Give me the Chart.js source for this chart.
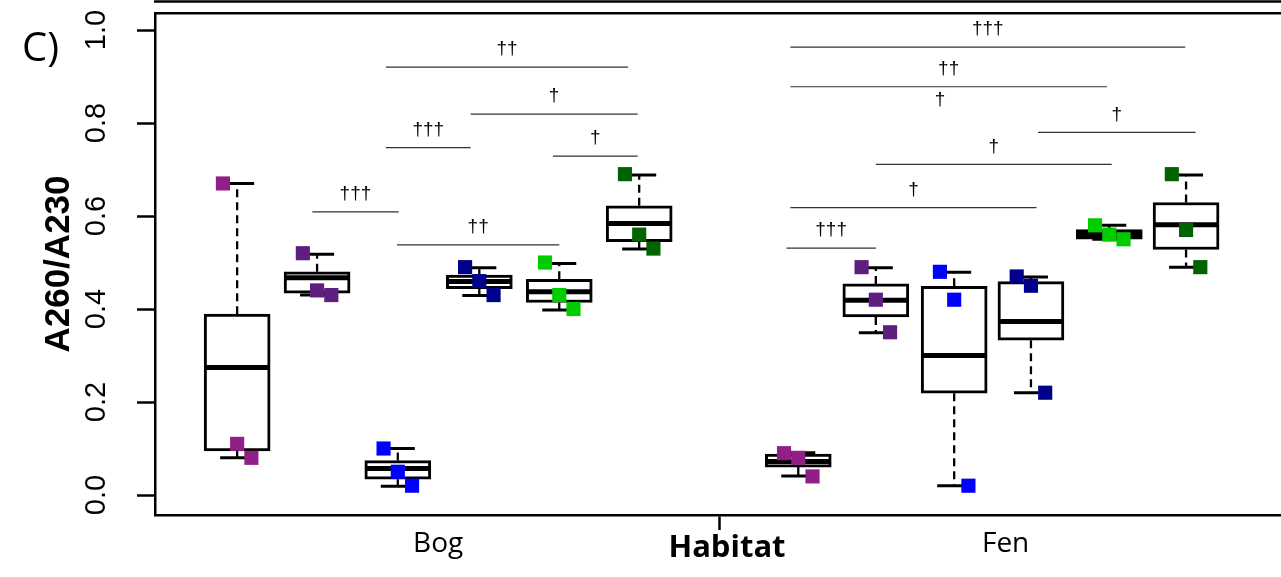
<!DOCTYPE html>
<html>
<head>
<meta charset="utf-8">
<script src="https://cdn.jsdelivr.net/npm/chart.js@4.4.0/dist/chart.umd.min.js"></script>
<style>
  html, body { margin: 0; padding: 0; background: #fff; overflow: hidden; }
  #wrap { width: 1299px; height: 577px; }
</style>
</head>
<body>
<div id="wrap"><canvas id="chart" width="1299" height="577"></canvas></div>
<script>
// --- data (panel C, A260/A230 by habitat) ---

// box centres: 6 treatments in Bog, 6 in Fen
const boxPos = [0.96, 1.97, 2.99, 4.02, 5.03, 6.04, 8.05, 9.03, 10.02, 10.99, 11.98, 12.95];
const boxColors = ['#911f86', '#5e1f80', '#0000ff', '#00008b', '#00cc00', '#006400'];

const whiskerHigh = [0.670, 0.518, 0.100, 0.489, 0.498, 0.688, 0.091, 0.489, 0.479, 0.469, 0.580, 0.688];
const boxHigh     = [0.389, 0.480, 0.074, 0.473, 0.464, 0.622, 0.088, 0.454, 0.449, 0.459, 0.571, 0.629];
const medians     = [0.274, 0.467, 0.057, 0.459, 0.437, 0.584, 0.072, 0.419, 0.300, 0.373, 0.560, 0.581];
const boxLow      = [0.095, 0.434, 0.034, 0.444, 0.414, 0.545, 0.060, 0.383, 0.219, 0.333, 0.550, 0.528];
const whiskerLow  = [0.080, 0.430, 0.019, 0.429, 0.398, 0.529, 0.041, 0.349, 0.020, 0.220, 0.550, 0.490];

// the three samples drawn over each box
const pointValues = [
  [0.67, 0.11, 0.08], [0.52, 0.44, 0.43], [0.10, 0.05, 0.02],
  [0.49, 0.46, 0.43], [0.50, 0.43, 0.40], [0.69, 0.56, 0.53],
  [0.09, 0.08, 0.04], [0.49, 0.42, 0.35], [0.48, 0.42, 0.02],
  [0.47, 0.45, 0.22], [0.58, 0.56, 0.55], [0.69, 0.57, 0.49]
];
const pointOffset = [-0.18, 0, 0.18];

// significance brackets
const bracketFrom  = [2.84, 3.91, 2.84, 4.95, 1.91, 2.98, 7.95, 7.95, 11.08, 9.03, 7.95, 7.90];
const bracketTo    = [5.90, 6.02, 3.91, 6.02, 3.00, 5.03, 12.94, 11.95, 13.07, 12.01, 11.06, 9.03];
const bracketLevel = [0.920, 0.819, 0.747, 0.729, 0.609, 0.538, 0.963, 0.878, 0.780, 0.711, 0.618, 0.531];
const bracketText  = ['††', '†', '†††', '†', '†††', '††', '†††', '††', '†', '†', '†', '†††'];
// one mark whose line sits under the "††" line
const loneMarkX = [9.84];
const loneMarkY = [0.851];
const loneMarkText = ['†'];

const xTickValues = [3.5, 7.05, 10.67];
const xTickLabels = ['Bog', '', 'Fen'];
const yTickValues = [0, 0.2, 0.4, 0.6, 0.8, 1.0];

// --- build datasets ---
const boxData = boxPos.map((x, i) => ({ x: x, y: [boxLow[i], boxHigh[i]] }));

const whiskerPts = [];
boxPos.forEach((x, i) => {
  whiskerPts.push({ x: x, y: boxHigh[i] }, { x: x, y: whiskerHigh[i] }, { x: x, y: null });
  whiskerPts.push({ x: x, y: boxLow[i] }, { x: x, y: whiskerLow[i] }, { x: x, y: null });
});

const staplePts = [];
boxPos.forEach((x, i) => {
  staplePts.push({ x: x, y: whiskerHigh[i] }, { x: x, y: whiskerLow[i] });
});

const medianPts = boxPos.map((x, i) => ({ x: x, y: medians[i] }));

const samplePts = [];
const sampleColors = [];
pointValues.forEach((vals, i) => {
  vals.forEach((v, j) => {
    samplePts.push({ x: boxPos[i] + pointOffset[j], y: v });
    sampleColors.push(boxColors[i % boxColors.length]);
  });
});

const bracketPts = [];
bracketFrom.forEach((x0, i) => {
  bracketPts.push({ x: x0, y: bracketLevel[i] }, { x: bracketTo[i], y: bracketLevel[i] }, { x: bracketTo[i], y: null });
});

// daggers, panel letter and the frame edge of the panel above
const annotate = {
  id: 'annotate',
  afterDatasetsDraw(chart) {
    const { ctx, chartArea } = chart;
    const xs = chart.scales.x;
    const ys = chart.scales.y;
    ctx.save();
    ctx.fillStyle = '#000';
    ctx.textAlign = 'center';
    ctx.textBaseline = 'middle';
    ctx.font = '19px "Liberation Sans"';
    bracketFrom.forEach((x0, i) => {
      const cx = xs.getPixelForValue((x0 + bracketTo[i]) / 2);
      const cy = ys.getPixelForValue(bracketLevel[i]) - 18;
      ctx.fillText(bracketText[i], cx, cy);
    });
    loneMarkX.forEach((mx, i) => {
      ctx.fillText(loneMarkText[i], xs.getPixelForValue(mx), ys.getPixelForValue(loneMarkY[i]));
    });

    ctx.font = '40px "Open Sans"';
    ctx.textAlign = 'left';
    ctx.fillText('C)', 22, 50);

    ctx.beginPath();
    ctx.lineWidth = 2.5;
    ctx.strokeStyle = '#000';
    ctx.moveTo(chartArea.left - 1, 1.5);
    ctx.lineTo(chart.width, 1.5);
    ctx.stroke();
    ctx.restore();
  }
};

new Chart(document.getElementById('chart'), {
  type: 'bar',
  data: {
    datasets: [
      {
        type: 'scatter',
        data: samplePts,
        pointStyle: 'rect',
        pointRadius: 10,
        pointHoverRadius: 10,
        pointBackgroundColor: sampleColors,
        pointBorderWidth: 0,
        order: 1
      },
      {
        type: 'scatter',
        data: medianPts,
        pointStyle: 'line',
        pointRadius: 32.5,
        pointBorderColor: '#000',
        pointBorderWidth: 5,
        order: 2
      },
      {
        type: 'scatter',
        data: staplePts,
        pointStyle: 'line',
        pointRadius: 17,
        pointBorderColor: '#000',
        pointBorderWidth: 3,
        order: 3
      },
      {
        type: 'line',
        data: whiskerPts,
        borderColor: '#000',
        borderWidth: 2.3,
        borderDash: [8, 5],
        pointRadius: 0,
        spanGaps: false,
        fill: false,
        order: 4
      },
      {
        type: 'bar',
        data: boxData,
        backgroundColor: '#fff',
        borderColor: '#000',
        borderWidth: 3,
        borderSkipped: false,
        barThickness: 66,
        grouped: false,
        order: 5
      },
      {
        type: 'line',
        data: bracketPts,
        borderColor: '#333',
        borderWidth: 1.2,
        pointRadius: 0,
        spanGaps: false,
        fill: false,
        order: 6
      }
    ]
  },
  options: {
    responsive: false,
    devicePixelRatio: 1,
    animation: false,
    events: [],
    layout: { padding: 0, autoPadding: false },
    plugins: {
      legend: { display: false },
      tooltip: { enabled: false }
    },
    scales: {
      x: {
        type: 'linear',
        position: 'bottom',
        min: -0.078,
        max: 14.377,
        offset: false,
        afterBuildTicks: s => { s.ticks = xTickValues.map(v => ({ value: v })); },
        afterFit: s => { s.height = 62; s.paddingLeft = 0; s.paddingRight = 0; },
        ticks: {
          autoSkip: false,
          minRotation: 0,
          maxRotation: 0,
          padding: 0,
          color: '#000',
          font: { family: 'Open Sans', size: 28, lineHeight: 1 },
          callback: (v, i) => xTickLabels[i]
        },
        grid: {
          drawOnChartArea: false,
          offset: false,
          tickLength: 15,
          tickWidth: 2.5,
          tickColor: c => (c.index === 1 ? '#000' : 'rgba(0,0,0,0)')
        },
        border: { display: true, color: '#000', width: 2.5 },
        title: {
          display: true,
          text: 'Habitat',
          color: '#000',
          font: { family: 'Open Sans', size: 31, weight: 'bold' },
          padding: { top: 0, bottom: 10 }
        }
      },
      x2: {
        type: 'linear',
        position: 'top',
        min: -0.078,
        max: 14.377,
        ticks: { display: false },
        grid: { display: false, drawTicks: false },
        border: { display: true, color: '#000', width: 2.5 },
        afterFit: s => { s.height = 13; s.paddingLeft = 0; s.paddingRight = 0; }
      },
      y: {
        type: 'linear',
        min: -0.043,
        max: 1.0366,
        afterBuildTicks: s => { s.ticks = yTickValues.map(v => ({ value: v })); },
        afterFit: s => { s.width = 155; s.paddingTop = 0; s.paddingBottom = 0; },
        ticks: {
          autoSkip: false,
          minRotation: 90,
          maxRotation: 90,
          crossAlign: 'center',
          padding: 20,
          color: '#000',
          font: { family: 'Liberation Sans', size: 29 },
          callback: v => v.toFixed(1)
        },
        grid: {
          drawOnChartArea: false,
          tickLength: 18,
          tickWidth: 2.5,
          tickColor: '#000'
        },
        border: { color: '#000', width: 2.5 },
        title: {
          display: true,
          text: 'A260/A230',
          color: '#000',
          font: { family: 'Liberation Sans', size: 35, weight: 'bold' },
          padding: { top: 38, bottom: 0 }
        }
      }
    }
  },
  plugins: [annotate]
});
</script>
</body>
</html>
